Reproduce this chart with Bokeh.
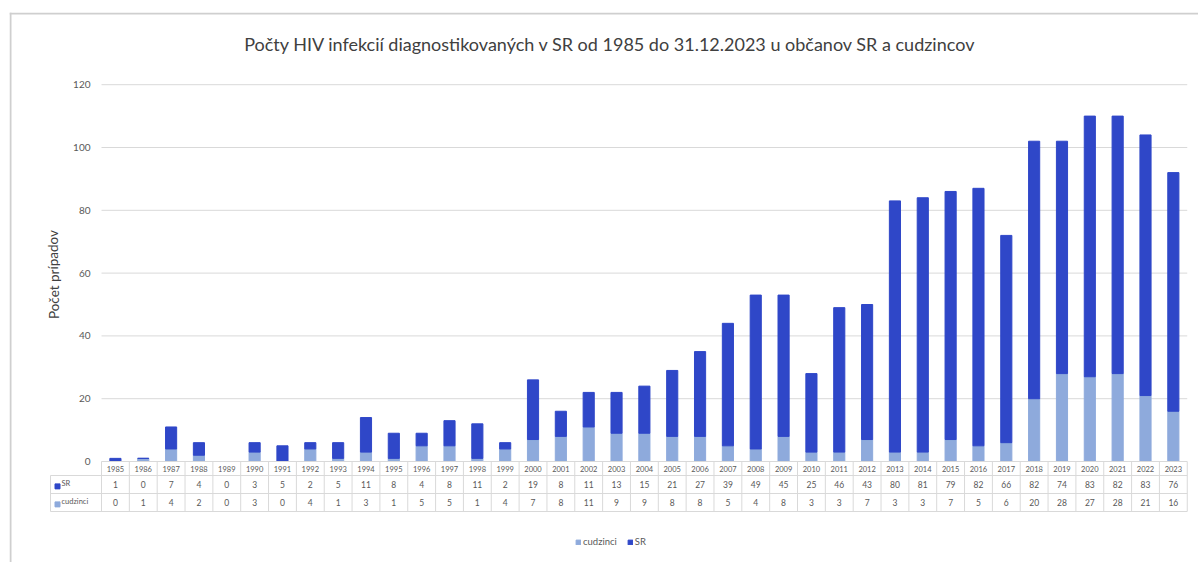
from bokeh.plotting import figure
from bokeh.models import ColumnDataSource, Range1d, Span, Label
from bokeh.core.properties import value
from bokeh.embed import file_html
from bokeh.resources import INLINE

# ---------------- data ----------------
years = [str(y) for y in range(1985, 2024)]
sr = [1, 0, 7, 4, 0, 3, 5, 2, 5, 11, 8, 4, 8, 11, 2, 19, 8, 11, 13, 15,
      21, 27, 39, 49, 45, 25, 46, 43, 80, 81, 79, 82, 66, 82, 74, 83, 82, 83, 76]
cudzinci = [0, 1, 4, 2, 0, 3, 0, 4, 1, 3, 1, 5, 5, 1, 4, 7, 8, 11, 9, 9,
            8, 8, 5, 4, 8, 3, 3, 7, 3, 3, 7, 5, 6, 20, 28, 27, 28, 21, 16]
y_ticks = [0, 20, 40, 60, 80, 100, 120]
series = ["cudzinci", "SR"]
title_text = "Počty HIV infekcií diagnostikovaných v SR od 1985 do 31.12.2023 u občanov SR a cudzincov"
y_title = "Počet prípadov"

# ---------------- styling / layout ----------------
C_SR = "#2f47c8"
C_CUD = "#8eaadc"
GRID = "#d9d9d9"
TXT = "#595959"
FONT = "Lato"

W, H = 1198, 562
PX_X, X0 = 27.84, 101.0   # page px per category, page x of first category edge
PX_Y, Y0 = 3.14, 461.0    # page px per unit, page y of zero
FL, FT = 9, 12            # frame left / top in page px


def dx(px):
    return (px - X0) / PX_X


def dy(py):
    return (Y0 - py) / PX_Y


n = len(years)
xs = [i + 0.5 for i in range(n)]
src = ColumnDataSource(dict(
    x=xs, years=years, SR=sr, cudzinci=cudzinci,
    sr_s=[str(v) for v in sr], cud_s=[str(v) for v in cudzinci],
))

p = figure(width=W, height=H, output_backend="svg", toolbar_location=None,
           x_range=Range1d(dx(FL), dx(W)), y_range=Range1d(dy(H), dy(FT)),
           x_axis_type=None, y_axis_type=None,
           min_border_left=FL, min_border_top=FT, min_border_right=0, min_border_bottom=0)
p.outline_line_color = None
p.background_fill_color = "white"

# outer chart border (left and top visible)
p.add_layout(Span(location=dx(FL + 1), dimension="height", line_color="#cfcfcf", line_width=2))
p.add_layout(Span(location=dy(FT + 1), dimension="width", line_color="#cfcfcf", line_width=2))

# gridlines
gt = [t for t in y_ticks if t > 0]
p.segment(x0=[0] * len(gt), x1=[n] * len(gt), y0=gt, y1=gt, line_color=GRID, line_width=1)

# y tick labels
p.text(x=[dx(90)] * len(y_ticks), y=y_ticks, text=[str(t) for t in y_ticks],
       text_align="right", text_baseline="middle", text_font=value(FONT),
       text_font_size="10px", text_color=TXT)

# y axis title
p.text(x=[dx(53)], y=[dy(274)], text=[y_title], angle=1.5708,
       text_align="center", text_baseline="middle", text_font=value(FONT),
       text_font_size="13.5px", text_color="#404040")

# stacked bars
p.vbar_stack(series, x="x", width=0.4, color=[C_CUD, C_SR], source=src,
             legend_label=series)

# ---------- data table ----------
r_top, r1, r2, r3 = dy(461), dy(475), dy(493), dy(511)
# horizontal lines
p.segment(x0=[0], x1=[n], y0=[r_top], y1=[r_top], line_color=GRID, line_width=1)
p.segment(x0=[dx(50)] * 3, x1=[n] * 3, y0=[r1, r2, r3], y1=[r1, r2, r3],
          line_color=GRID, line_width=1)
# vertical lines
p.segment(x0=list(range(n + 1)), x1=list(range(n + 1)),
          y0=[r_top] * (n + 1), y1=[r3] * (n + 1), line_color=GRID, line_width=1)
p.segment(x0=[dx(50)], x1=[dx(50)], y0=[r1], y1=[r3], line_color=GRID, line_width=1)

p.text(x="x", y=(r_top + r1) / 2, text="years", source=src, text_align="center",
       text_baseline="middle", text_font=value(FONT), text_font_size="7.5px", text_color=TXT)
p.text(x="x", y=(r1 + r2) / 2, text="sr_s", source=src, text_align="center",
       text_baseline="middle", text_font=value(FONT), text_font_size="8.5px", text_color=TXT)
p.text(x="x", y=(r2 + r3) / 2, text="cud_s", source=src, text_align="center",
       text_baseline="middle", text_font=value(FONT), text_font_size="8.5px", text_color=TXT)

# row headers
p.scatter(x=[dx(57), dx(57)], y=[(r1 + r2) / 2 - 0.6, (r2 + r3) / 2 - 0.6], marker="square",
          size=5, color=[C_SR, C_CUD])
p.text(x=[dx(61), dx(61)], y=[(r1 + r2) / 2 + 0.3, (r2 + r3) / 2 + 0.3], text=["SR", "cudzinci"],
       text_align="left", text_baseline="middle", text_font=value(FONT),
       text_font_size="7.5px", text_color=TXT)

# title
p.add_layout(Label(x=dx(610), y=dy(43), text=title_text, text_align="center",
                   text_baseline="middle", text_font=FONT, text_font_size="18px",
                   text_color="#404040"))

# legend
lg = p.legend[0]
lg.orientation = "horizontal"
lg.location = (566, 15)
lg.label_text_font = FONT
lg.label_text_font_size = "9.5px"
lg.label_text_color = TXT
lg.glyph_width = 6
lg.glyph_height = 6
lg.label_standoff = 2
lg.spacing = 10
lg.padding = 0
lg.margin = 0
lg.border_line_color = None
lg.background_fill_alpha = 0

open("out.html", "w").write(file_html(p, INLINE))
